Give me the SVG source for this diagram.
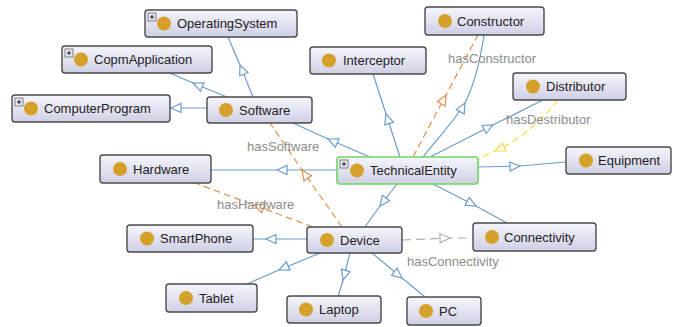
<svg xmlns="http://www.w3.org/2000/svg" width="673" height="327" viewBox="0 0 673 327">
<style>
  .node rect.box { fill: url(#ng); stroke: #4a4a4a; stroke-width: 1.4; }
  .node rect.sel { stroke: #6fd65f; stroke-width: 1.6; }
  .node circle { fill: #d5a12b; }
  .node text { font-family: "Liberation Sans", Arial, sans-serif; font-size: 13px; fill: #222; }
  .plus rect { fill: #e6e6ee; stroke: #666; stroke-width: 0.8; }
  .plus path { stroke: #222; stroke-width: 1; fill: none; }
  .e { fill: none; stroke-width: 1.2; }
  .b { stroke: #6b9dd2; marker-mid: url(#ab); }
  .o { stroke: #e58f4e; stroke-dasharray: 7 4; marker-mid: url(#ao); }
  .y { stroke: #f6da48; stroke-dasharray: 7 4; marker-mid: url(#ay); }
  .g { stroke: #b0b0b0; stroke-dasharray: 9 5; marker-mid: url(#ag); }
  .lbl { font-family: "Liberation Sans", Arial, sans-serif; font-size: 13px; fill: #8c8c8c; }
</style>
<defs>
  <linearGradient id="ng" x1="0" y1="0" x2="0" y2="1">
    <stop offset="0" stop-color="#f6f6fc"/>
    <stop offset="1" stop-color="#cfcfe6"/>
  </linearGradient>
  <marker id="ab" markerUnits="userSpaceOnUse" markerWidth="12" markerHeight="12" refX="10" refY="4.5" orient="auto" overflow="visible">
    <path d="M0,0 L10,4.5 L0,9 Z" fill="#fff" stroke="#6b9dd2" stroke-width="1.2"/>
  </marker>
  <marker id="ao" markerUnits="userSpaceOnUse" markerWidth="12" markerHeight="12" refX="10" refY="4.5" orient="auto" overflow="visible">
    <path d="M0,0 L10,4.5 L0,9 Z" fill="#fff" stroke="#e58f4e" stroke-width="1.2"/>
  </marker>
  <marker id="ay" markerUnits="userSpaceOnUse" markerWidth="12" markerHeight="12" refX="10" refY="4.5" orient="auto" overflow="visible">
    <path d="M0,0 L10,4.5 L0,9 Z" fill="#fff" stroke="#f6da48" stroke-width="1.2"/>
  </marker>
  <marker id="ag" markerUnits="userSpaceOnUse" markerWidth="12" markerHeight="12" refX="10" refY="4.5" orient="auto" overflow="visible">
    <path d="M0,0 L10,4.5 L0,9 Z" fill="#fff" stroke="#b0b0b0" stroke-width="1.2"/>
  </marker>
</defs>
<rect width="673" height="327" fill="#fff"/>

<g id="connectors">
  <!-- subclass edges (blue) -->
  <path class="e b" d="M253,97 L240,65 L228,37"/>
  <path class="e b" d="M227,97 L193,83 L170,73"/>
  <path class="e b" d="M207,108 L171,108 L170,108"/>
  <path class="e b" d="M370,157 L328,139 L293,123"/>
  <path class="e b" d="M337,170 L277,170 L211,170"/>
  <path class="e b" d="M400,157 L386,114 L373,74"/>
  <path class="e b" d="M423,157 C438,138 455,120 465,103 C474,85 480,62 484,35"/>
  <path class="e b" d="M430,157 L493,125 L543,100"/>
  <path class="e b" d="M478,167 L520,166 L566,162"/>
  <path class="e b" d="M397,184 L380,206 L365,227"/>
  <path class="e b" d="M433,184 L476,206 L507,223"/>
  <path class="e b" d="M307,239 L266,239 L253,239"/>
  <path class="e b" d="M320,253 L279,270 L247,284"/>
  <path class="e b" d="M350,253 L343,280 L338,297"/>
  <path class="e b" d="M372,253 L402,278 L425,297"/>
  <!-- object properties -->
  <path class="e o" d="M413,157 L446,95 L478,35"/>
  <path class="e y" d="M558,100 Q530,135 495,151 Q486,155 478,160"/>
  <path class="e o" d="M342,227 L302,170 L270,123"/>
  <path class="e o" d="M313,227 L254,205 L195,183"/>
  <path class="e g" d="M402,240 L450,238 L473,238"/>
  <text class="lbl" x="448" y="63">hasConstructor</text>
  <text class="lbl" x="506" y="124">hasDestributor</text>
  <text class="lbl" x="247" y="151">hasSoftware</text>
  <text class="lbl" x="217" y="209">hasHardware</text>
  <text class="lbl" x="407" y="266">hasConnectivity</text>
</g>

<g id="OperatingSystem" class="node">
  <rect class="box" x="145" y="10" width="152" height="27" rx="3"/>
  <g class="plus"><rect x="148" y="13" width="8" height="8"/><path d="M150,17 H154 M152,15 V19"/></g>
  <circle cx="164" cy="23.5" r="7"/>
  <text x="177" y="28">OperatingSystem</text>
</g>
<g id="CopmApplication" class="node">
  <rect class="box" x="62" y="46" width="150" height="27" rx="3"/>
  <g class="plus"><rect x="65" y="49" width="8" height="8"/><path d="M67,53 H71 M69,51 V55"/></g>
  <circle cx="81" cy="59.5" r="7"/>
  <text x="94" y="64">CopmApplication</text>
</g>
<g id="ComputerProgram" class="node">
  <rect class="box" x="12" y="95" width="158" height="27" rx="3"/>
  <g class="plus"><rect x="15" y="98" width="8" height="8"/><path d="M17,102 H21 M19,100 V104"/></g>
  <circle cx="31" cy="108.5" r="7"/>
  <text x="44" y="113">ComputerProgram</text>
</g>
<g id="Software" class="node">
  <rect class="box" x="207" y="97" width="105" height="26" rx="3"/>
  <circle cx="226" cy="110" r="7"/>
  <text x="239" y="114.5">Software</text>
</g>
<g id="Interceptor" class="node">
  <rect class="box" x="310" y="47" width="116" height="27" rx="3"/>
  <circle cx="329" cy="60.5" r="7"/>
  <text x="343" y="65">Interceptor</text>
</g>
<g id="Constructor" class="node">
  <rect class="box" x="425" y="7" width="119" height="28" rx="3"/>
  <circle cx="445" cy="21" r="7"/>
  <text x="457" y="25.5">Constructor</text>
</g>
<g id="Distributor" class="node">
  <rect class="box" x="513" y="73" width="113" height="27" rx="3"/>
  <circle cx="533" cy="86.5" r="7"/>
  <text x="546" y="91">Distributor</text>
</g>
<g id="Hardware" class="node">
  <rect class="box" x="100" y="155" width="111" height="28" rx="3"/>
  <circle cx="120" cy="169" r="7"/>
  <text x="133" y="173.5">Hardware</text>
</g>
<g id="TechnicalEntity" class="node">
  <rect class="box sel" x="337" y="157" width="141" height="27" rx="3"/>
  <g class="plus"><rect x="340" y="160" width="8" height="8"/><path d="M342,164 H346 M344,162 V166"/></g>
  <circle cx="357" cy="170.5" r="7"/>
  <text x="370" y="175">TechnicalEntity</text>
</g>
<g id="Equipment" class="node">
  <rect class="box" x="566" y="147" width="105" height="27" rx="3"/>
  <circle cx="586" cy="160.5" r="7"/>
  <text x="598" y="165">Equipment</text>
</g>
<g id="SmartPhone" class="node">
  <rect class="box" x="127" y="225" width="126" height="27" rx="3"/>
  <circle cx="147" cy="238.5" r="7"/>
  <text x="160" y="243">SmartPhone</text>
</g>
<g id="Device" class="node">
  <rect class="box" x="307" y="227" width="95" height="26" rx="3"/>
  <circle cx="327" cy="240" r="7"/>
  <text x="340" y="244.5">Device</text>
</g>
<g id="Connectivity" class="node">
  <rect class="box" x="473" y="223" width="123" height="28" rx="3"/>
  <circle cx="492" cy="237" r="7"/>
  <text x="504" y="241.5">Connectivity</text>
</g>
<g id="Tablet" class="node">
  <rect class="box" x="166" y="284" width="91" height="28" rx="3"/>
  <circle cx="186" cy="298" r="7"/>
  <text x="199" y="302.5">Tablet</text>
</g>
<g id="Laptop" class="node">
  <rect class="box" x="287" y="296" width="94" height="27" rx="3"/>
  <circle cx="306" cy="309.5" r="7"/>
  <text x="319" y="314">Laptop</text>
</g>
<g id="PC" class="node">
  <rect class="box" x="407" y="297" width="74" height="28" rx="3"/>
  <circle cx="426" cy="311" r="7"/>
  <text x="439" y="315.5">PC</text>
</g>
</svg>
